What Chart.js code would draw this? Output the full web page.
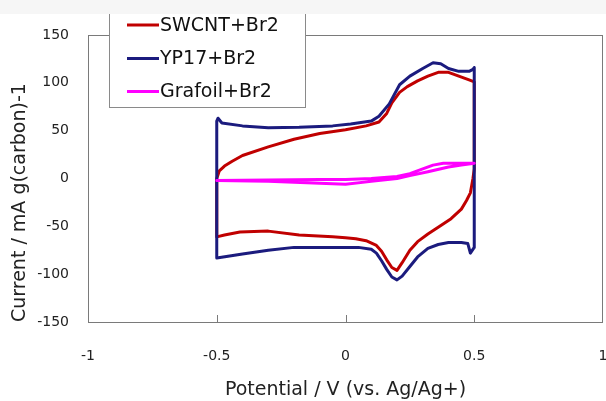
<!DOCTYPE html>
<html>
<head>
<meta charset="utf-8">
<script src="https://cdn.jsdelivr.net/npm/chart.js@4/dist/chart.umd.min.js"></script>
<style>
  html, body { margin: 0; padding: 0; background: #fff; }
  #wrap { position: relative; width: 606px; height: 401px; }
</style>
</head>
<body>
<div id="wrap"><canvas id="myChart"></canvas></div>
<script>
// potential (V) vs current (mA/g)
const swcntX = [-0.5, -0.5, -0.49, -0.47, -0.44, -0.4, -0.3, -0.2, -0.1, 0, 0.08, 0.13, 0.16, 0.18, 0.21, 0.24, 0.28, 0.32, 0.36, 0.4, 0.44, 0.48, 0.5,
  0.5, 0.495, 0.485, 0.47, 0.45, 0.41, 0.36, 0.32, 0.28, 0.25, 0.22, 0.2, 0.18, 0.16, 0.14, 0.12, 0.08, 0.04, 0, -0.05, -0.18, -0.3, -0.41, -0.47, -0.5];
const swcntY = [-61, 0, 8, 13, 18, 24, 33, 41, 47, 51, 55, 59, 68, 79, 90, 96, 102, 107, 111, 111, 107, 103, 101,
  10, 0, -15, -23, -32, -42, -51, -58, -66, -75, -88, -96, -93, -85, -76, -70, -65, -63, -62, -61, -59, -55, -56, -59, -61];

const yp17X = [-0.5, -0.5, -0.495, -0.48, -0.4, -0.3, -0.18, -0.05, 0.02, 0.1, 0.13, 0.17, 0.21, 0.25, 0.3, 0.34, 0.37, 0.4, 0.44, 0.48, 0.495, 0.5,
  0.5, 0.485, 0.475, 0.45, 0.4, 0.36, 0.32, 0.28, 0.25, 0.22, 0.2, 0.18, 0.16, 0.14, 0.12, 0.1, 0.05, 0, -0.1, -0.2, -0.3, -0.4, -0.5];
const yp17Y = [-83, 60, 63, 58, 55, 53, 53.5, 55, 57, 60, 65, 78, 98, 107, 115, 121, 120, 115, 112, 112, 114, 116,
  -72, -78, -68, -67, -67, -69, -73, -82, -92, -102, -106, -103, -95, -86, -78, -74, -72, -72, -72, -72, -75, -79, -83];

const grafoilX = [-0.5, -0.3, -0.1, 0, 0.1, 0.2, 0.25, 0.3, 0.34, 0.38, 0.42, 0.5,
  0.45, 0.4, 0.32, 0.25, 0.2, 0.1, 0, -0.1, -0.2, -0.3, -0.5];
const grafoilY = [-2, -1.5, -1, -1, 0, 2, 5, 10, 14, 16, 16, 16,
  14, 12, 7, 3, 0, -3, -6, -5, -4, -3, -2];

const seriesNames = ["SWCNT+Br2", "YP17+Br2", "Grafoil+Br2"];
const seriesColors = ["#c00000", "#1b1b7e", "#ff00ff"];
const potentialTicks = [-1, -0.5, 0, 0.5, 1];
const currentTicks = [-150, -100, -50, 0, 50, 100, 150];

function zip(xs, ys) {
  return xs.map((x, i) => ({ x: x, y: ys[i] }));
}

const font = "'DejaVu Sans', sans-serif";

// frame, inward x ticks, legend box and the washed-out strip at the top
const decor = {
  id: "decor",
  beforeDraw(chart) {
    const c = chart.ctx;
    c.save();
    c.fillStyle = "#fff";
    c.fillRect(0, 0, chart.width, chart.height);
    c.restore();
  },
  afterDraw(chart) {
    const c = chart.ctx;
    const a = chart.chartArea;
    const xs = chart.scales.x;
    c.save();
    c.strokeStyle = "#7a7a7a";
    c.lineWidth = 1;
    c.strokeRect(a.left + 0.5, a.top + 0.5, a.right - a.left - 1, a.bottom - a.top);
    c.beginPath();
    potentialTicks.slice(1, -1).forEach(v => {
      const px = Math.round(xs.getPixelForValue(v)) + 0.5;
      c.moveTo(px, a.bottom);
      c.lineTo(px, a.bottom - 7);
    });
    c.stroke();

    // legend
    c.fillStyle = "#fff";
    c.fillRect(109, -5, 196, 112);
    c.strokeStyle = "#8a8a8a";
    c.strokeRect(109.5, -5, 196, 112.5);
    const rows = [25, 58.5, 91.5];
    c.font = "19px " + font;
    c.textBaseline = "middle";
    chart.data.datasets.forEach((ds, i) => {
      c.strokeStyle = ds.borderColor;
      c.lineWidth = 3;
      c.beginPath();
      c.moveTo(127, rows[i]);
      c.lineTo(159, rows[i]);
      c.stroke();
      c.fillStyle = "#111";
      c.fillText(ds.label, 160, rows[i] + 1);
    });

    c.fillStyle = "#f6f6f6";
    c.fillRect(0, 0, chart.width, 14);
    c.restore();
  }
};

const ctx = document.getElementById("myChart").getContext("2d");
const myChart = new Chart(ctx, {
  type: "scatter",
  data: {
    datasets: [
      { label: seriesNames[0], data: zip(swcntX, swcntY), borderColor: seriesColors[0], order: 3 },
      { label: seriesNames[1], data: zip(yp17X, yp17Y), borderColor: seriesColors[1], order: 2 },
      { label: seriesNames[2], data: zip(grafoilX, grafoilY), borderColor: seriesColors[2], order: 1 },
    ],
  },
  options: {
    responsive: true,
    maintainAspectRatio: false,
    animation: false,
    showLine: true,
    layout: { padding: { top: 35, right: 3, left: 0, bottom: 0 } },
    elements: {
      point: { radius: 0, hoverRadius: 0 },
      line: { borderWidth: 3, tension: 0, fill: false, borderJoinStyle: "round", borderCapStyle: "round" },
    },
    plugins: {
      legend: { display: false },
      tooltip: { enabled: false },
    },
    scales: {
      x: {
        type: "linear",
        min: -1,
        max: 1,
        afterBuildTicks: s => { s.ticks = potentialTicks.map(v => ({ value: v })); },
        afterFit: s => { s.height = 79; s.paddingLeft = 0; s.paddingRight = 0; },
        grid: { display: false, drawTicks: false },
        border: { display: false },
        ticks: {
          padding: 26,
          maxRotation: 0,
          color: "#222",
          font: { family: font, size: 14 },
          callback: v => String(v),
        },
        title: {
          display: true,
          text: "Potential / V (vs. Ag/Ag+)",
          color: "#222",
          font: { family: font, size: 19 },
          padding: { top: 0, bottom: 0 },
        },
      },
      y: {
        type: "linear",
        min: -150,
        max: 150,
        afterBuildTicks: s => { s.ticks = currentTicks.map(v => ({ value: v })); },
        afterFit: s => { s.width = 88; s.paddingTop = 0; s.paddingBottom = 0; },
        grid: { display: false, drawTicks: false },
        border: { display: false },
        ticks: {
          padding: 19,
          color: "#222",
          font: { family: font, size: 14 },
          callback: v => String(v),
        },
        title: {
          display: true,
          align: "start",
          text: "Current / mA g(carbon)-1",
          color: "#222",
          font: { family: font, size: 19 },
          padding: { top: 9, bottom: 0 },
        },
      },
    },
  },
  plugins: [decor],
});
</script>
</body>
</html>
